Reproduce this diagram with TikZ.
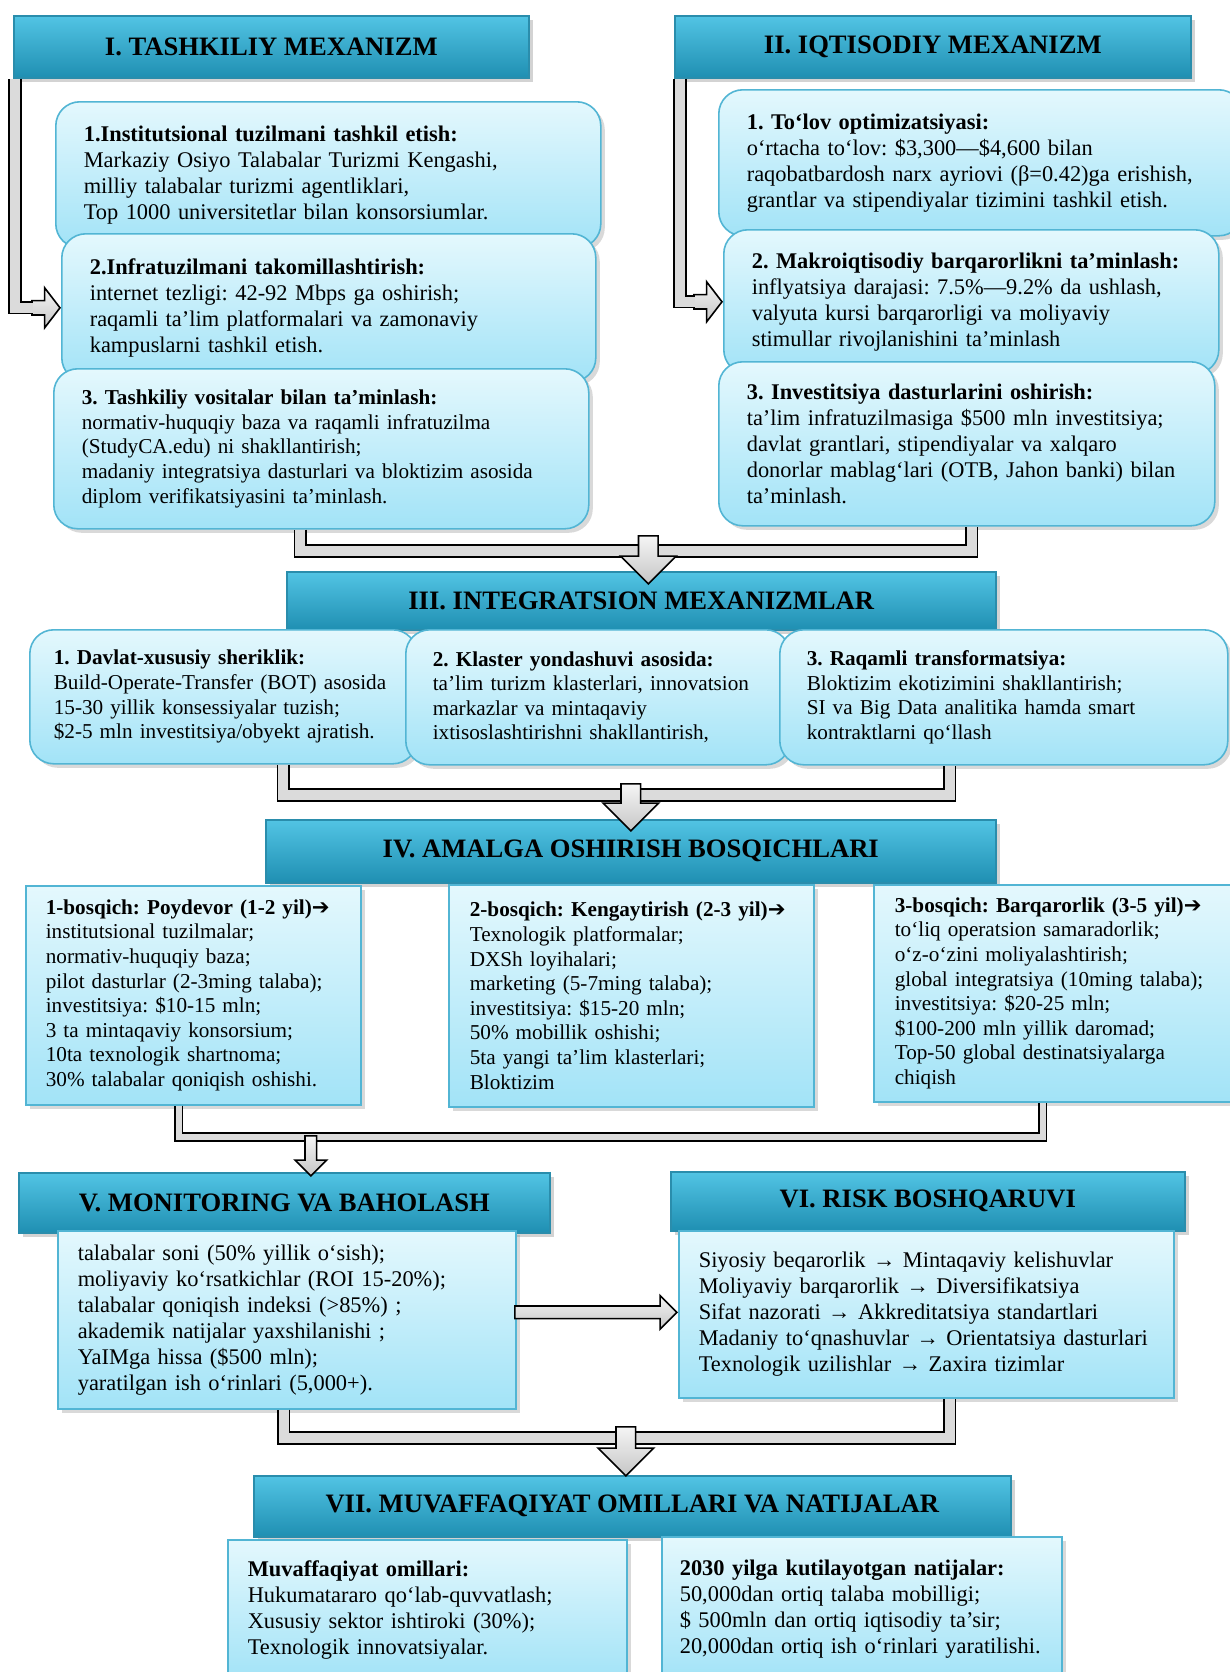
\documentclass[tikz,border=0pt]{standalone}
\usepackage{fontspec}
\setmainfont{Liberation Serif}
\newfontfamily\arrowfont{DejaVu Sans}
\usetikzlibrary{shapes.arrows,shadows}
\frenchspacing

\definecolor{hdrtop}{HTML}{52C4E4}
\definecolor{hdrbot}{HTML}{1F8FB2}
\definecolor{hdrline}{HTML}{2A8DAC}
\definecolor{boxtop}{HTML}{E4F8FD}
\definecolor{boxbot}{HTML}{A2E3F7}
\definecolor{boxline}{HTML}{52B5D4}

\newcommand{\nxt}{{\arrowfont\bfseries ➔}}

\begin{document}
\begin{tikzpicture}[x=0.5pt,y=-0.5pt,
  hdr/.style={draw=hdrline, line width=0.8pt, top color=hdrtop, bottom color=hdrbot,
    anchor=north west, inner sep=0pt, font=\fontsize{13.3}{15}\selectfont\bfseries,
    drop shadow={opacity=0.35, shadow xshift=2pt, shadow yshift=-2pt}},
  card/.style={draw=boxline, line width=0.8pt, top color=boxtop, bottom color=boxbot,
    anchor=north west, align=left, inner ysep=0pt, inner xsep=10pt,
    drop shadow={opacity=0.3, shadow xshift=2pt, shadow yshift=-2pt}},
  rcard/.style={card, rounded corners=12pt, inner xsep=14pt},
  body/.style={font=\fontsize{11.2}{13}\selectfont},
  small/.style={font=\fontsize{10.6}{12.3}\selectfont},
  pipe/.style={draw=black, line width=0.8pt, double=gray!28, double distance=5pt},
  thinpipe/.style={pipe, double distance=3pt},
  blockarr/.style={single arrow, draw=black, line width=0.8pt, top color=gray!8,
    bottom color=gray!45, inner xsep=0pt, anchor=tip},
  downarr/.style={blockarr, shape border rotate=270, inner xsep=4.5pt, inner ysep=0pt,
    single arrow head extend=9pt},
  sidearr/.style={blockarr, inner ysep=3.2pt, single arrow head extend=6.4pt,
    single arrow tip angle=105}]

\useasboundingbox (0,0) rectangle (1230,1672);

% I va II
\node[hdr, minimum width=257.5pt, minimum height=31pt] (h1) at (13,15) {I. TASHKILIY MEXANIZM};
\node[hdr, minimum width=258pt, minimum height=31pt] (h2) at (674,15) {II. IQTISODIY MEXANIZM};

\node[rcard, body, minimum width=272.5pt, minimum height=73pt, text width=244.5pt] (b11) at (55,101)
  {\textbf{1.Institutsional tuzilmani tashkil etish:}\\
   Markaziy Osiyo Talabalar Turizmi Kengashi,\\
   milliy talabalar turizmi agentliklari,\\
   Top 1000 universitetlar bilan konsorsiumlar.};
\node[rcard, body, minimum width=267pt, minimum height=74pt, text width=239pt] (b12) at (61,233)
  {\textbf{2.Infratuzilmani takomillashtirish:}\\
   internet tezligi: 42-92 Mbps ga oshirish;\\
   raqamli ta’lim platformalari va zamonaviy\\
   kampuslarni tashkil etish.};
\node[rcard, small, minimum width=267.5pt, minimum height=80pt, text width=239.5pt] (b13) at (53,368)
  {\textbf{3. Tashkiliy vositalar bilan ta’minlash:}\\
   normativ-huquqiy baza va raqamli infratuzilma\\
   (StudyCA.edu) ni shakllantirish;\\
   madaniy integratsiya dasturlari va bloktizim asosida\\
   diplom verifikatsiyasini ta’minlash.};

\node[rcard, body, minimum width=262pt, minimum height=73pt, text width=234pt] (b21) at (718,89)
  {\textbf{1. To‘lov optimizatsiyasi:}\\
   o‘rtacha to‘lov: \$3,300—\$4,600 bilan\\
   raqobatbardosh narx ayriovi (β=0.42)ga erishish,\\
   grantlar va stipendiyalar tizimini tashkil etish.};
\node[rcard, body, minimum width=247.5pt, minimum height=72pt, text width=219.5pt] (b22) at (723,229)
  {\textbf{2. Makroiqtisodiy barqarorlikni ta’minlash:}\\
   inflyatsiya darajasi: 7.5\%—9.2\% da ushlash,\\
   valyuta kursi barqarorligi va moliyaviy\\
   stimullar rivojlanishini ta’minlash};
\node[rcard, body, minimum width=248pt, minimum height=82pt, text width=220pt] (b23) at (718,361)
  {\textbf{3. Investitsiya dasturlarini oshirish:}\\
   ta’lim infratuzilmasiga \$500 mln investitsiya;\\
   davlat grantlari, stipendiyalar va xalqaro\\
   donorlar mablag‘lari (OTB, Jahon banki) bilan\\
   ta’minlash.};

\node[sidearr, minimum height=14pt] (s1) at (b12.west) {};
\draw[pipe] ([xshift=1pt]h1.south west) |- ([xshift=1pt]s1.tail);
\node[sidearr, minimum height=14pt] (s2) at (b22.west) {};
\draw[pipe] ([xshift=3pt]h2.south west) |- ([xshift=1pt]s2.tail);

% III
\node[hdr, minimum width=354.5pt, minimum height=29pt] (h3) at (286,571) {III. INTEGRATSION MEXANIZMLAR};
\node[rcard, small, inner xsep=12pt, minimum width=193.5pt, minimum height=67pt, text width=169.5pt] (b31) at (29,629)
  {\textbf{1. Davlat-xususiy sheriklik:}\\
   Build-Operate-Transfer (BOT) asosida\\
   15-30 yillik konsessiyalar tuzish;\\
   \$2-5 mln investitsiya/obyekt ajratish.};
\node[rcard, small, inner xsep=13.5pt, minimum width=192pt, minimum height=67.5pt, text width=165pt] (b32) at (405,629)
  {\textbf{2. Klaster yondashuvi asosida:}\\
   ta’lim turizm klasterlari, innovatsion\\
   markazlar va mintaqaviy\\
   ixtisoslashtirishni shakllantirish,};
\node[rcard, small, inner xsep=13.5pt, minimum width=224pt, minimum height=67.5pt, text width=197pt] (b33) at (779,629)
  {\textbf{3. Raqamli transformatsiya:}\\
   Bloktizim ekotizimini shakllantirish;\\
   SI va Big Data analitika hamda smart\\
   kontraktlarni qo‘llash};

\coordinate (m1) at (640,551);
\draw[pipe] ([xshift=-10.5pt]b13.south) |- (m1) -| ([xshift=2.5pt]b23.south);
\node[downarr, minimum height=24pt] (d1) at ([xshift=3.5pt,yshift=-7pt]h3.north) {};

% IV
\node[hdr, minimum width=365pt, minimum height=31.5pt] (h4) at (265,819) {IV. AMALGA OSHIRISH BOSQICHLARI};
\node[card, small, minimum width=167.5pt, minimum height=109.5pt, text width=147.5pt] (b41) at (25,885)
  {\textbf{1-bosqich: Poydevor (1-2 yil)\nxt}\\
   institutsional tuzilmalar;\\
   normativ-huquqiy baza;\\
   pilot dasturlar (2-3ming talaba);\\
   investitsiya: \$10-15 mln;\\
   3 ta mintaqaviy konsorsium;\\
   10ta texnologik shartnoma;\\
   30\% talabalar qoniqish oshishi.};
\node[card, small, inner xsep=10.5pt, minimum width=182.5pt, minimum height=111pt, text width=161.5pt] (b42) at (448,884)
  {\textbf{2-bosqich: Kengaytirish (2-3 yil)\nxt}\\
   Texnologik platformalar;\\
   DXSh loyihalari;\\
   marketing (5-7ming talaba);\\
   investitsiya: \$15-20 mln;\\
   50\% mobillik oshishi;\\
   5ta yangi ta’lim klasterlari;\\
   Bloktizim};
\node[card, small, inner xsep=10.5pt, minimum width=180pt, minimum height=108.5pt, text width=159pt] (b43) at (873,884)
  {\textbf{3-bosqich: Barqarorlik (3-5 yil)\nxt}\\
   to‘liq operatsion samaradorlik;\\
   o‘z-o‘zini moliyalashtirish;\\
   global integratsiya (10ming talaba);\\
   investitsiya: \$20-25 mln;\\
   \$100-200 mln yillik daromad;\\
   Top-50 global destinatsiyalarga\\
   chiqish};

\coordinate (m2) at (630,795);
\draw[pipe] ([xshift=30pt]b31.south) |- (m2) -| ([xshift=-27pt]b33.south);
\node[downarr, minimum height=23.5pt] (d2) at ([yshift=-6.5pt]h4.north) {};

% V va VI
\node[hdr, minimum width=265.5pt, minimum height=30pt] (h5) at (18,1172) {V. MONITORING VA BAHOLASH};
\node[hdr, minimum width=257pt, minimum height=29.5pt] (h6) at (670,1171) {VI. RISK BOSHQARUVI};

\coordinate (m3) at (310,1137);
\draw[thinpipe] ([xshift=-7.25pt]b41.south) |- (m3) -| ([xshift=-5.5pt]b43.south);
\node[downarr, inner xsep=2.5pt, single arrow head extend=5pt, minimum height=20pt] (d3)
  at ([xshift=13.25pt,yshift=-2.5pt]h5.north) {};

\node[card, body, minimum width=229pt, minimum height=89pt, text width=209pt] (b5) at (57,1230)
  {talabalar soni (50\% yillik o‘sish);\\
   moliyaviy ko‘rsatkichlar (ROI 15-20\%);\\
   talabalar qoniqish indeksi (>85\%) ;\\
   akademik natijalar yaxshilanishi ;\\
   YaIMga hissa (\$500 mln);\\
   yaratilgan ish o‘rinlari (5,000+).};
\node[card, body, minimum width=247.5pt, minimum height=83.5pt, text width=227.5pt] (b6) at (678,1230)
  {Siyosiy beqarorlik → Mintaqaviy kelishuvlar\\
   Moliyaviy barqarorlik → Diversifikatsiya\\
   Sifat nazorati → Akkreditatsiya standartlari\\
   Madaniy to‘qnashuvlar → Orientatsiya dasturlari\\
   Texnologik uzilishlar → Zaxira tizimlar};

\node[blockarr, inner ysep=2.75pt, single arrow head extend=5.25pt, minimum height=81pt] (r1)
  at ([yshift=1pt]b6.west) {};

% VII
\node[hdr, minimum width=378.5pt, minimum height=30.5pt] (h7) at (253,1475) {VII. MUVAFFAQIYAT OMILLARI VA NATIJALAR};

\coordinate (m4) at (625,1438);
\draw[pipe] ([xshift=-1.5pt]b5.south) |- (m4) -| ([xshift=11.75pt]b6.south);
\node[downarr, minimum height=24.5pt] (d4) at ([xshift=-3.25pt,yshift=-1pt]h7.north) {};

\node[card, body, minimum width=199.5pt, minimum height=70.5pt, text width=179.5pt] (b71) at (227,1539)
  {\textbf{Muvaffaqiyat omillari:}\\
   Hukumatararo qo‘lab-quvvatlash;\\
   Xususiy sektor ishtiroki (30\%);\\
   Texnologik innovatsiyalar.};
\node[card, body, inner xsep=9pt, minimum width=200pt, minimum height=72pt, text width=182pt] (b72) at (661,1536)
  {\textbf{2030 yilga kutilayotgan natijalar:}\\
   50,000dan ortiq talaba mobilligi;\\
   \$ 500mln dan ortiq iqtisodiy ta’sir;\\
   20,000dan ortiq ish o‘rinlari yaratilishi.};
\end{tikzpicture}
\end{document}
